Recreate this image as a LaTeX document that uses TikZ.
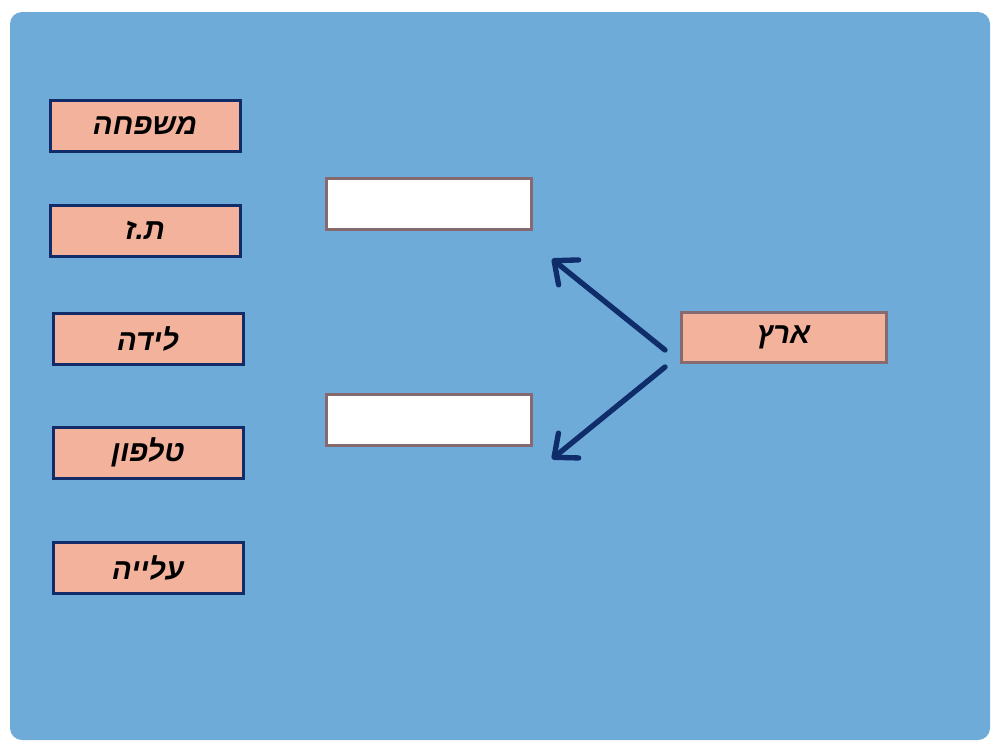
\documentclass[tikz,border=0pt]{standalone}
\usepackage{fontspec}
\newfontfamily\hebfont[Script=Hebrew]{Liberation Sans}
\TeXXeTstate=1
\usetikzlibrary{arrows.meta}

\begin{document}
\begin{tikzpicture}[x=0.75pt,y=0.75pt,yscale=-1,xscale=1,
    word/.style={draw={rgb, 255:red, 17; green, 44; blue, 104}, line width=2.25pt, fill={rgb, 255:red, 243; green, 178; blue, 156}, minimum width=142.5pt, minimum height=38.25pt, inner sep=0pt, outer sep=0pt, font=\hebfont\bfseries\itshape\fontsize{22}{26}\selectfont},
    blank/.style={draw={rgb, 255:red, 135; green, 106; blue, 111}, line width=2.25pt, fill=white, minimum width=153.75pt, minimum height=38.25pt, inner sep=0pt, outer sep=0pt},
    pointer/.style={draw={rgb, 255:red, 14; green, 45; blue, 106}, line width=4pt, line cap=round, -{Straight Barb[length=14pt,width=24pt,round]}}]
    %uncomment if require: \path (0,750); %set diagram left start at 0, and has height of 750
    \useasboundingbox (0,0) rectangle (1000,750);
    
    %Shape: Rectangle 
    \draw [draw=none, fill={rgb, 255:red, 111; green, 171; blue, 216}, rounded corners=9pt] (10,12) rectangle (990,740);
    
    % Text Node
    \draw (145,126) node (family) [word] {\beginR משפחה\endR};
    % Text Node
    \draw (145,230.5) node (idno) [word] {\beginR ת.ז\endR};
    % Text Node
    \draw (148,338.5) node (birth) [word] {\beginR לידה\endR};
    % Text Node
    \draw (148,452.5) node (phone) [word] {\beginR טלפון\endR};
    % Text Node
    \draw (148,567.5) node (aliyah) [word] {\beginR עלייה\endR};
    
    %Shape: Rectangle 
    \draw (428.5,203.5) node (upper) [blank] {};
    %Shape: Rectangle 
    \draw (428.5,419.5) node (lower) [blank] {};
    
    % Text Node
    \draw (783.5,337) node (land) [word, draw={rgb, 255:red, 135; green, 106; blue, 111}, minimum width=153.75pt, minimum height=37.5pt] {\beginR ארץ\endR};
    
    % Connection
    \coordinate (upstart) at (665,350);
    \coordinate (upend) at (552,259);
    \coordinate (downstart) at (665,367);
    \coordinate (downend) at (552,459);
    \draw [pointer] (upstart) -- (upend);
    \draw [pointer] (downstart) -- (downend);
    
\end{tikzpicture}
\end{document}
